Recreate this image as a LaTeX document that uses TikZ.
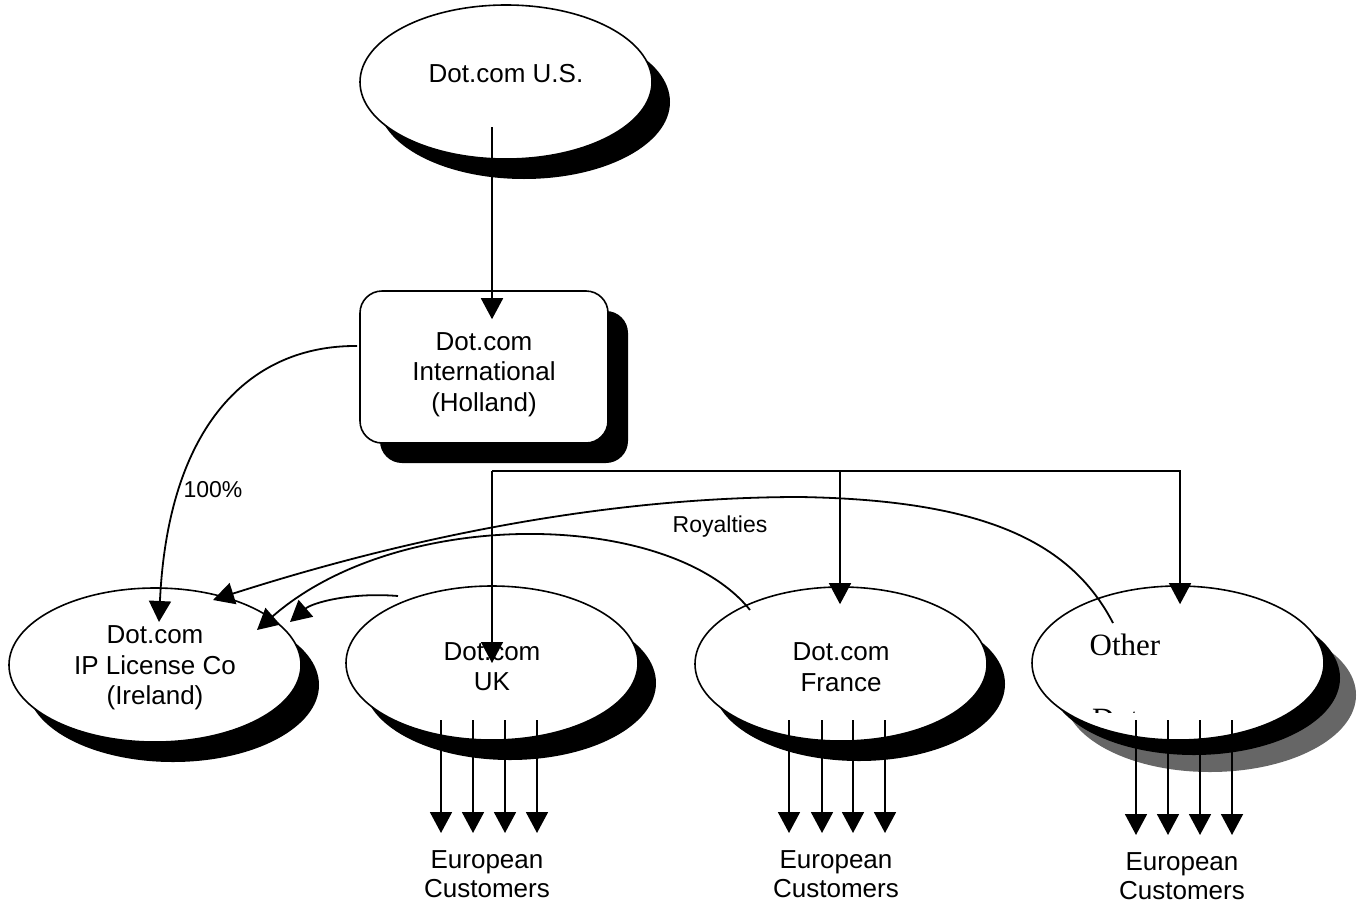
\documentclass[tikz,border=0pt]{standalone}
\usepackage{fontspec}
\setmainfont{Liberation Sans}
\newfontfamily\timesfont{Liberation Serif}
\usetikzlibrary{shapes.geometric,shadows,arrows.meta,calc}
\newcommand{\topstrut}[1]{\rule{0pt}{#1}}
\begin{document}
\begin{tikzpicture}[x=1pt,y=-1pt,
  entbase/.style={ellipse,draw,line width=1.6pt,fill=white,minimum width=292pt,
    minimum height=154pt,inner sep=0pt,align=center,font=\fontsize{26}{30.5}\selectfont},
  ent/.style={entbase,drop shadow={shadow xshift=18pt,shadow yshift=-20pt,fill=black,opacity=1}},
  boxnode/.style={rectangle,rounded corners=22pt,draw,line width=1.6pt,fill=white,
    minimum width=248pt,minimum height=152pt,inner sep=0pt,align=center,
    font=\fontsize{26}{30.5}\selectfont,
    drop shadow={shadow xshift=20pt,shadow yshift=-20pt,fill=black,opacity=1}},
  lbl/.style={inner sep=0pt,font=\fontsize{23}{27}\selectfont},
  cust/.style={inner sep=0pt,align=center,font=\fontsize{26}{29}\selectfont},
  arr/.style={line width=1.8pt,-{Triangle[width=22pt,length=21pt]}},
  busarr/.style={line width=1.5pt,-{Triangle[width=22pt,length=21pt]}}
]
\useasboundingbox (0,0) rectangle (1364,907);

% entities
\node[ent] (us) at (506,82) {\raisebox{0pt}[0pt][0pt]{Dot.com U.S.}};
\node[boxnode] (hol) at (484,367) {\topstrut{33pt}Dot.com\\International\\(Holland)};
\node[ent] (ire) at (155,665) {\topstrut{24pt}Dot.com\\IP License Co\\(Ireland)};
\node[ent] (uk) at (492,663) {\topstrut{25pt}Dot.com\\UK};
\node[ent] (fr) at (841,664) {\topstrut{24pt}Dot.com\\France};
\node[entbase,
  drop shadow={shadow xshift=32pt,shadow yshift=-32pt,fill=black!60,opacity=1},
  drop shadow={shadow xshift=16pt,shadow yshift=-15pt,fill=black,opacity=1}] (oth) at (1178,663) {};
\node[inner sep=0pt,font=\timesfont\fontsize{31}{36}\selectfont] (othtxt) at (1125,645) {Other};
\begin{scope}
  \clip (1000,690) rectangle (1300,712);
  \node[anchor=base west,inner sep=0pt,font=\timesfont\fontsize{31}{36}\selectfont] (othtxt2) at (1092,729) {Dot.com};
\end{scope}

% US -> Holland
\draw[arr] ($(us)+(-14,45)$) -- ($(hol.north)+(8,29)$);

% Holland -> Ireland (100%)
\draw[arr] ($(hol.west)+(-2,-21)$) .. controls (250,345) and (168,425) .. ($(ire)+(4,-43)$);
\node[lbl] (pct) at (213,490) {100\%};

% bus to operating companies
\coordinate (bus) at (492,471);
\draw[busarr] (bus) -- (uk.center);
\draw[busarr] (bus) -| ($(fr.north)+(-1,18)$);
\draw[busarr] (bus) -| ($(oth.north)+(2,19)$);

% royalties
\draw[arr] ($(oth)+(-65,-40)$) .. controls (1070,540) and (980,500) .. (800,497)
  .. controls (600,497) and (400,540) .. ($(ire)+(58,-65)$);
\draw[arr] ($(fr)+(-91,-54)$) .. controls (670,510) and (400,505) .. ($(ire)+(102,-35)$);
\draw[arr] ($(uk)+(-94,-67)$) .. controls (350,592) and (312,603) .. ($(ire)+(135,-43)$);
\node[lbl] (roy) at (720,527) {Royalties};

% customers
\node[cust] (eu1) at (487,874.5) {European\\Customers};
\node[cust] (eu2) at (836,874.5) {European\\Customers};
\node[cust] (eu3) at (1182,876.5) {European\\Customers};

\foreach \dx in {-51,-19,13,45}
  \draw[arr] ($(uk)+(\dx,57)$) -- ($(uk)+(\dx,170)$);
\foreach \dx in {-52,-19,12,44}
  \draw[arr] ($(fr)+(\dx,56)$) -- ($(fr)+(\dx,169)$);
\foreach \dx in {-42,-10,22,54}
  \draw[arr] ($(oth)+(\dx,57)$) -- ($(oth)+(\dx,172)$);
\end{tikzpicture}
\end{document}
